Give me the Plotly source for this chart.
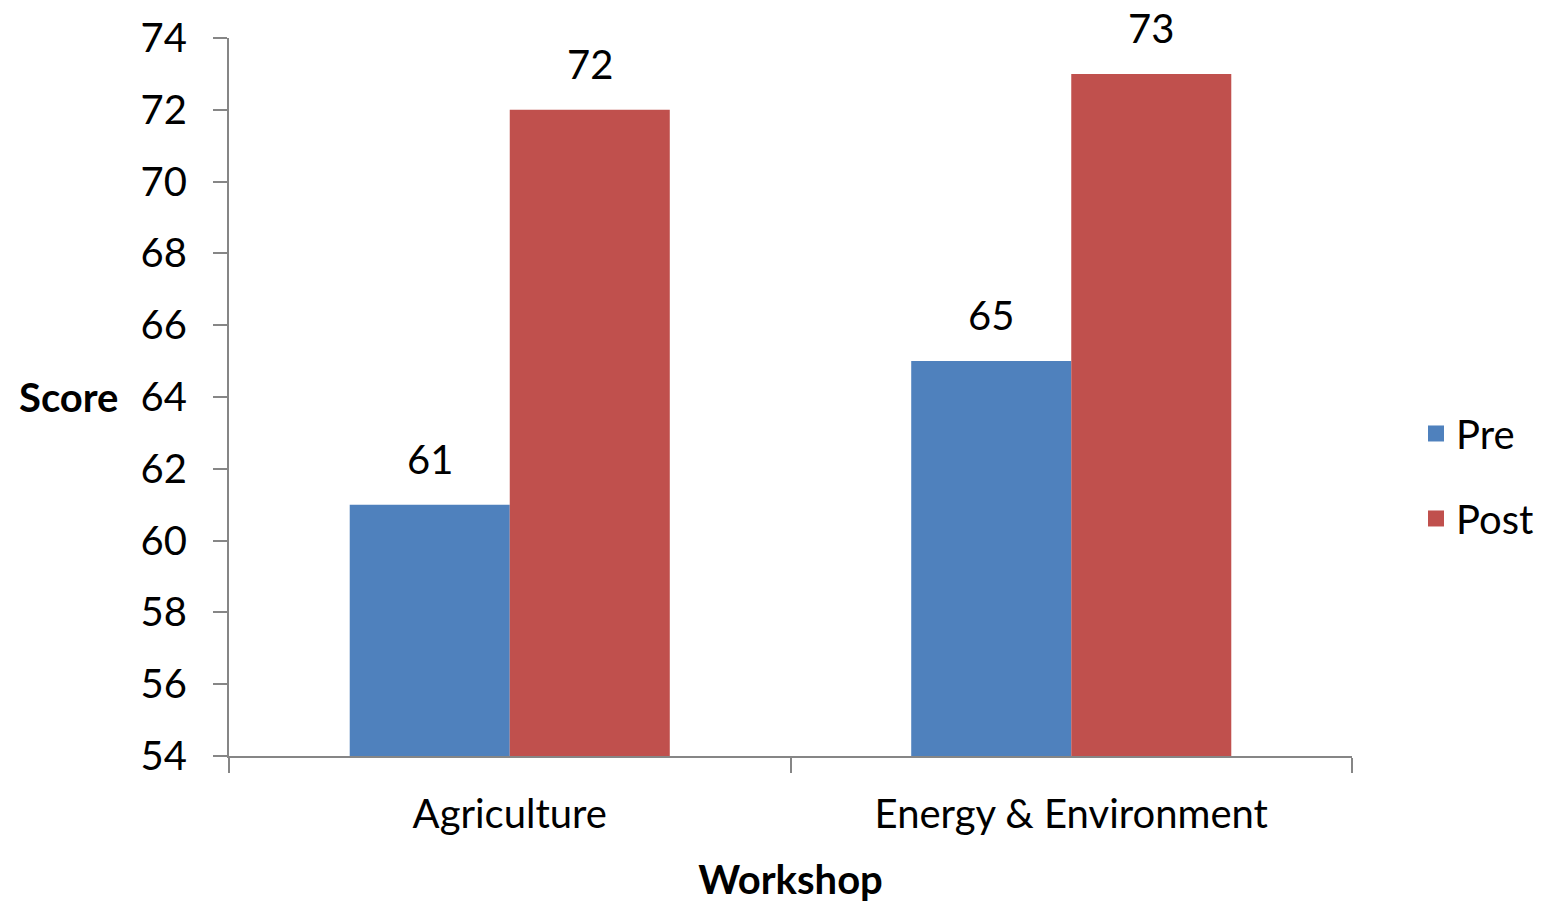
import plotly.graph_objects as go

categories = ["Agriculture", "Energy & Environment"]
pre_values = [61, 65]
post_values = [72, 73]
series_names = ["Pre", "Post"]
y_ticks = [54, 56, 58, 60, 62, 64, 66, 68, 70, 72, 74]

FONT = "Lato, Carlito, Calibri, sans-serif"
BLUE = "#4F81BD"
RED = "#C0504D"
AXIS = "#868686"
FS = 40

W, H = 1546, 895
L, R, T, B = 221, 202, 30, 147

fig = go.Figure()
series = [(series_names[0], pre_values, BLUE, -80), (series_names[1], post_values, RED, 80)]
annotations = []
for name, vals, col, xs in series:
    fig.add_trace(go.Bar(
        x=categories, y=vals, name=name, legendgroup=name, showlegend=False,
        marker=dict(color=col, line=dict(width=0)),
    ))
    fig.add_trace(go.Scatter(
        x=[None], y=[None], mode="markers", name=name, legendgroup=name,
        marker=dict(color=col, symbol="square", size=16),
    ))
    for c, v in zip(categories, vals):
        annotations.append(dict(
            x=c, y=v, xref="x", yref="y", text=str(v), showarrow=False,
            xanchor="center", yanchor="bottom", xshift=xs, yshift=20,
            font=dict(family=FONT, size=FS, color="#000000"),
        ))

pw = W - L - R
ph = H - T - B
annotations.append(dict(
    text="<b>Score</b>", x=(60 - L) / pw, xref="paper", y=(748 - 389) / ph, yref="paper",
    xanchor="center", yanchor="middle",
    showarrow=False, font=dict(family=FONT, size=FS, color="#000000"),
))

fig.update_layout(
    width=W, height=H,
    margin=dict(l=L, r=R, t=T, b=B, autoexpand=False),
    paper_bgcolor="white", plot_bgcolor="white",
    barmode="group", bargap=0.43, bargroupgap=0,
    font=dict(family=FONT, size=FS, color="#000000"),
    showlegend=True,
    legend=dict(x=1.057, xanchor="left", y=0.39, yanchor="middle",
                font=dict(family=FONT, size=FS, color="#000000"),
                traceorder="grouped", tracegroupgap=30, itemsizing="trace",
                bgcolor="rgba(0,0,0,0)"),
    xaxis=dict(
        showline=True, linecolor=AXIS, linewidth=2,
        ticks="outside", ticklen=15, tickcolor=AXIS, tickwidth=2,
        tickson="boundaries", ticklabelstandoff=22,
        tickfont=dict(family=FONT, size=FS, color="#000000"),
        showgrid=False, zeroline=False, automargin=False,
        title=dict(text="<b>Workshop</b>", font=dict(family=FONT, size=FS, color="#000000"), standoff=43),
    ),
    yaxis=dict(
        range=[54, 74], tickvals=y_ticks,
        showline=True, linecolor=AXIS, linewidth=2,
        ticks="outside", ticklen=14, tickcolor=AXIS, tickwidth=2,
        ticklabelstandoff=18,
        tickfont=dict(family=FONT, size=FS, color="#000000"),
        showgrid=False, zeroline=False, automargin=False,
    ),
    annotations=annotations,
)

fig.write_html("out.html")
